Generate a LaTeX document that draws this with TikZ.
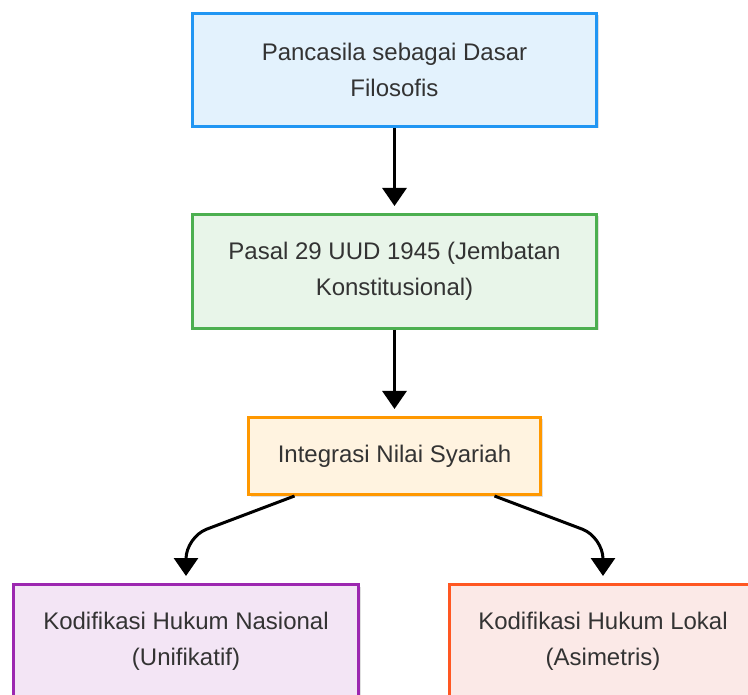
\documentclass[tikz,border=0pt]{standalone}
\usepackage{fontspec}
\setmainfont{Liberation Sans}
\usetikzlibrary{arrows.meta}
\definecolor{txt}{HTML}{333333}
\definecolor{bluel}{HTML}{2196F3}\definecolor{bluef}{HTML}{E3F2FD}
\definecolor{greenl}{HTML}{4CAF50}\definecolor{greenf}{HTML}{E8F5E9}
\definecolor{orangel}{HTML}{FF9800}\definecolor{orangef}{HTML}{FFF3E0}
\definecolor{purplel}{HTML}{9C27B0}\definecolor{purplef}{HTML}{F3E5F5}
\definecolor{redl}{HTML}{FF5722}\definecolor{redf}{HTML}{FBE9E7}
\tikzset{
  box/.style={draw, line width=3pt, rectangle, align=center, text=txt,
    font=\fontsize{24}{36}\selectfont, inner sep=0pt,
    drop shadow/.style={}},
  shadowed/.style={preaction={fill=black, opacity=0.12, transform canvas={xshift=2pt,yshift=-2pt}}},
  arr/.style={line width=3pt, -{Triangle[width=24pt,length=18pt]}, shorten >=7pt}
}
\begin{document}
\begin{tikzpicture}[x=1pt,y=-1pt]
\useasboundingbox (0,0) rectangle (748,695);
\clip (0,0) rectangle (748,695);
\node[box, shadowed, fill=bluef, draw=bluel, minimum width=404pt, minimum height=113pt] (n1) at (394.5,70) {Pancasila sebagai Dasar\\Filosofis};
\node[box, shadowed, fill=greenf, draw=greenl, minimum width=404pt, minimum height=114pt] (n2) at (394.5,271.5) {Pasal 29 UUD 1945 (Jembatan\\Konstitusional)};
\node[box, shadowed, fill=orangef, draw=orangel, minimum width=292pt, minimum height=77pt] (n3) at (394.5,456) {Integrasi Nilai Syariah};
\node[box, shadowed, fill=purplef, draw=purplel, minimum width=345pt, minimum height=114pt] (n4) at (186,641.5) {Kodifikasi Hukum Nasional\\(Unifikatif)};
\node[box, shadowed, fill=redf, draw=redl, minimum width=307pt, minimum height=114pt] (n5) at (603,641.5) {Kodifikasi Hukum Lokal\\(Asimetris)};
\draw[arr] (n1.south) -- (n2.north);
\draw[arr] (n2.south) -- (n3.north);
\draw[arr, rounded corners=22pt] ([xshift=-100pt]n3.south) -- ([yshift=46pt]n4.north) -- (n4.north);
\draw[arr, rounded corners=22pt] ([xshift=100pt]n3.south) -- ([yshift=46pt]n5.north) -- (n5.north);
\end{tikzpicture}
\end{document}
